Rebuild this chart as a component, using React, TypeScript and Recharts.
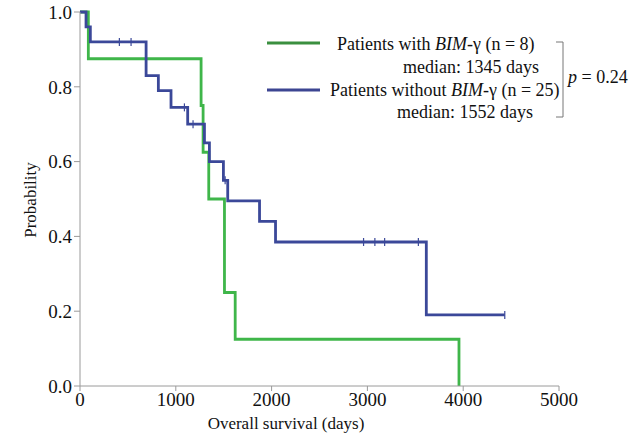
import React from "react";
import {
  ComposedChart,
  Line,
  Scatter,
  XAxis,
  YAxis,
} from "recharts";

// Kaplan-Meier step points (days, survival probability)
const withBimDays = [0, 87, 1264, 1285, 1344, 1508, 1620, 3956];
const withBimSurv = [1.0, 0.875, 0.75, 0.625, 0.5, 0.25, 0.125, 0.0];

const withoutBimDays = [0, 63, 108, 690, 818, 950, 1124, 1299, 1351, 1497, 1542, 1874, 2041, 3615, 4434];
const withoutBimSurv = [1.0, 0.96, 0.92, 0.83, 0.79, 0.745, 0.7, 0.65, 0.6, 0.55, 0.495, 0.44, 0.385, 0.19, 0.19];

// censored observations (blue group)
const censorDays = [411, 533, 1090, 1180, 1515, 2960, 3078, 3180, 3532, 4434];
const censorSurv = [0.92, 0.92, 0.745, 0.7, 0.55, 0.385, 0.385, 0.385, 0.385, 0.19];

const xTicks = [0, 1000, 2000, 3000, 4000, 5000];
const yTicks = [0, 0.2, 0.4, 0.6, 0.8, 1.0];

const GREEN = "#3fb64a";
const BLUE = "#3b4899";
const LEGEND_GREEN = "#3a8f3f";
const LEGEND_BLUE = "#3c4592";
const AXIS = "#9a9a9a";
const FONT = "'Liberation Serif', 'Times New Roman', serif";

const withBim = withBimDays.map((t, i) => ({ t, s: withBimSurv[i] }));
const withoutBim = withoutBimDays.map((t, i) => ({ t, s: withoutBimSurv[i] }));
const censored = censorDays.map((t, i) => ({ t, s: censorSurv[i] }));

function CensorTick(props: any) {
  const { cx, cy } = props;
  if (cx == null || cy == null) return null;
  return <line x1={cx} x2={cx} y1={cy - 4} y2={cy + 4} stroke={BLUE} strokeWidth={1.2} />;
}

export default function App() {
  return (
    <div style={{ position: "absolute", left: 0, top: 0, width: 640, height: 437, background: "#fff" }}>
      <ComposedChart
        width={640}
        height={437}
        margin={{ top: 12, right: 81, bottom: 21, left: 0 }}
      >
        <XAxis
          type="number"
          dataKey="t"
          domain={[0, 5000]}
          ticks={xTicks}
          allowDataOverflow
          height={30}
          stroke={AXIS}
          tickSize={5}
          tick={{ fontSize: 19, fill: "#111", fontFamily: FONT }}
        />
        <YAxis
          type="number"
          dataKey="s"
          domain={[0, 1]}
          ticks={yTicks}
          width={80}
          stroke={AXIS}
          tickSize={6}
          tickMargin={2}
          tickFormatter={(v: number) => v.toFixed(1)}
          tick={{ fontSize: 19, fill: "#111", fontFamily: FONT }}
        />
        <Line
          data={withBim}
          dataKey="s"
          type="stepAfter"
          stroke={GREEN}
          strokeWidth={2.8}
          dot={false}
          isAnimationActive={false}
        />
        <Line
          data={withoutBim}
          dataKey="s"
          type="stepAfter"
          stroke={BLUE}
          strokeWidth={2.8}
          dot={false}
          isAnimationActive={false}
        />
        <Scatter
          data={censored}
          dataKey="s"
          shape={<CensorTick />}
          isAnimationActive={false}
        />
      </ComposedChart>
      <svg
        width={640}
        height={437}
        style={{ position: "absolute", left: 0, top: 0, pointerEvents: "none" }}
        fontFamily={FONT}
      >
        <text x={286} y={429} fontSize={17} textAnchor="middle" fill="#111">
          Overall survival (days)
        </text>
        <text
          x={36}
          y={200}
          fontSize={17}
          textAnchor="middle"
          fill="#111"
          transform="rotate(-90 36 200)"
        >
          Probability
        </text>

        <line x1={267} x2={320} y1={43} y2={43} stroke={LEGEND_GREEN} strokeWidth={3} />
        <text x={337} y={50} fontSize={18} fill="#111">
          Patients with <tspan fontStyle="italic">BIM</tspan>-γ (n = 8)
        </text>
        <text x={403} y={73} fontSize={18} fill="#111">median: 1345 days</text>

        <line x1={267} x2={320} y1={90} y2={90} stroke={LEGEND_BLUE} strokeWidth={3} />
        <text x={330} y={96} fontSize={18} fill="#111">
          Patients without <tspan fontStyle="italic">BIM</tspan>-γ (n = 25)
        </text>
        <text x={397} y={118} fontSize={18} fill="#111">median: 1552 days</text>

        <path d="M556 42 H563 V117 H556" fill="none" stroke="#777" strokeWidth={1} />
        <text x={568} y={83} fontSize={18} fill="#111">
          <tspan fontStyle="italic">p</tspan> = 0.24
        </text>
      </svg>
    </div>
  );
}
